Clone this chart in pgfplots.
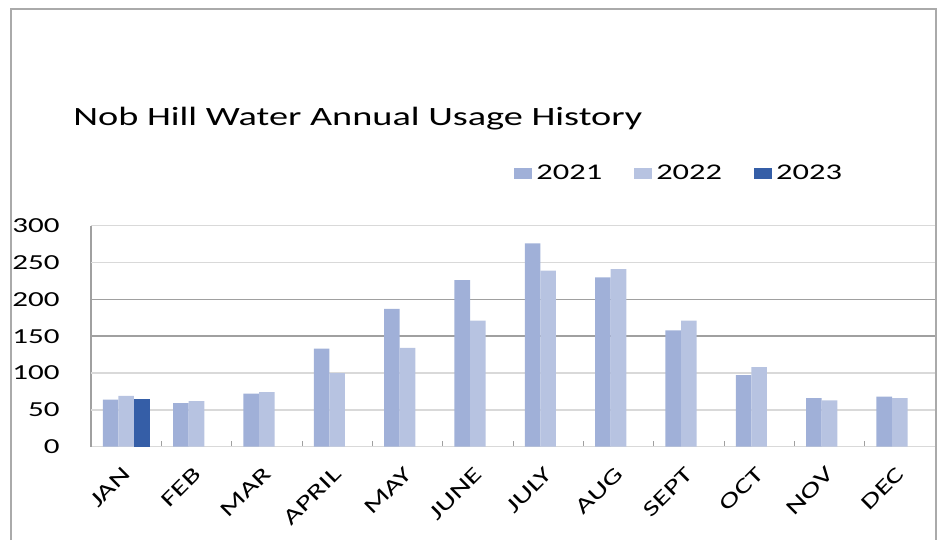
\documentclass[border=0pt]{standalone}
\usepackage{fontspec}
\setmainfont{Carlito}[FakeStretch=1.45]
\usepackage{pgfplots}
\pgfplotsset{compat=1.18}
\definecolor{c21}{RGB}{160,176,216}
\definecolor{c22}{RGB}{183,195,225}
\definecolor{c23}{RGB}{53,94,167}
\definecolor{gridlight}{RGB}{217,217,217}
\definecolor{griddark}{RGB}{160,160,160}
\definecolor{framegray}{RGB}{170,170,170}
\begin{document}
\begin{tikzpicture}
\useasboundingbox (0,0) rectangle (470pt,270pt);
% outer chart frame (open at the bottom)
\draw[framegray, line width=0.8pt] (5.5pt,0pt) -- (5.5pt,265.5pt) -- (468pt,265.5pt) -- (468pt,0pt);
\node[anchor=base west, inner sep=0pt, font=\fontsize{13.2}{15}\selectfont] at (36.5pt,207pt) {Nob Hill Water Annual Usage History};
\begin{axis}[
at={(45.5pt,46.65pt)}, anchor=south west,
scale only axis,
width=422pt, height=110.5pt,
ybar=0pt, bar width=7.8pt,
xmin=-0.5, xmax=11.5,
ymin=0, ymax=300,
xtick={0,...,11},
xticklabels={JAN,FEB,MAR,APRIL,MAY,JUNE,JULY,AUG,SEPT,OCT,NOV,DEC},
minor xtick={0.5,1.5,...,10.5},
major x tick style={draw=none},
minor tick length=3pt,
tick align=inside,
ytick={0,50,...,300},
ytick style={draw=none},
axis lines*=left,
x axis line style={gridlight, line width=0.75pt},
y axis line style={griddark, line width=0.75pt},
minor x tick style={griddark, line width=0.5pt},
ymajorgrids=true,
major grid style={griddark, line width=0.75pt},
% the lighter grid lines are drawn over the darker ones
extra y ticks={50,100,250,300},
extra y tick labels={},
extra y tick style={grid=major, major grid style={gridlight, line width=0.75pt}, ytick style={draw=none}},
/pgf/number format/assume math mode=true,
tick label style={font=\fontsize{10.7}{12}\selectfont, black},
yticklabel style={anchor=east, inner sep=0pt, xshift=-15.5pt},
xticklabel style={rotate=45, anchor=north east, inner sep=0pt, yshift=-5pt, xshift=-8pt},
legend style={at={(0.5012,1.236)}, anchor=west, draw=none, fill=none, inner sep=0pt,
  legend columns=-1, font=\fontsize{11.2}{12}\selectfont,
  /tikz/every even column/.append style={column sep=14pt}},
every axis plot/.append style={draw=none,
  legend image code/.code={\fill[##1, draw=none] (0pt,-2.75pt) rectangle (9pt,2.75pt);}},
]
\addplot[fill=c21] coordinates {(0,64)(1,59)(2,72)(3,133)(4,187)(5,226)(6,276)(7,230)(8,158)(9,97)(10,66)(11,68)};
\addplot[fill=c22] coordinates {(0,69)(1,62)(2,74)(3,100)(4,134)(5,171)(6,239)(7,241)(8,171)(9,108)(10,63)(11,66)};
\addplot[fill=c23] coordinates {(0,65)};
\legend{2021,2022,2023}
\end{axis}
\end{tikzpicture}
\end{document}
